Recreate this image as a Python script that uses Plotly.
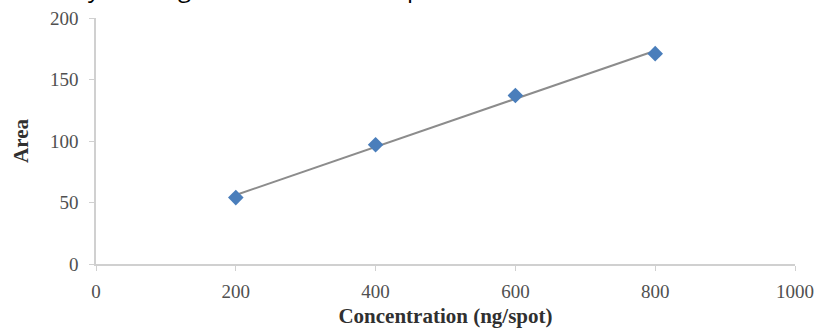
import numpy as np
import plotly.graph_objects as go

concentration = [200, 400, 600, 800]
area = [54, 97, 137, 171]
x_ticks = [0, 200, 400, 600, 800, 1000]
y_ticks = [0, 50, 100, 150, 200]

slope, intercept = np.polyfit(concentration, area, 1)
fit_x = [min(concentration), max(concentration)]
fit_y = [slope * v + intercept for v in fit_x]

fig = go.Figure()
fig.add_trace(go.Scatter(x=fit_x, y=fit_y, mode="lines",
                         line=dict(color="#8c8c8c", width=2), showlegend=False))
fig.add_trace(go.Scatter(x=concentration, y=area, mode="markers",
                         marker=dict(symbol="diamond", size=12, color="#4a7ebb",
                                     line=dict(width=0)), showlegend=False))

serif = "Liberation Serif"
fig.update_layout(
    width=819, height=328,
    margin=dict(l=96, r=24, t=18, b=64, autoexpand=False),
    paper_bgcolor="white", plot_bgcolor="white",
    font=dict(family=serif, color="#505050", size=19),
    xaxis=dict(range=[0, 1000], tickvals=x_ticks, showgrid=False, zeroline=False,
               showline=True, linecolor="#d0d0d0", linewidth=1.5,
               ticks="outside", ticklen=5, tickcolor="#d0d0d0",
               ticklabelstandoff=4,
               title=dict(text="<b>Concentration (ng/spot)</b>", standoff=12,
                          font=dict(family=serif, size=21, color="#303030"))),
    yaxis=dict(range=[0, 200], tickvals=y_ticks, showgrid=False, zeroline=False,
               showline=True, linecolor="#d0d0d0", linewidth=1.5,
               ticks="outside", ticklen=5, tickcolor="#d0d0d0",
               ticklabelstandoff=7,
               title=dict(text="<b>Area</b>", standoff=16,
                          font=dict(family=serif, size=21, color="#303030"))),
)

# descenders of the caption line cut off at the top of the image
caption_chars = ["y", "g", "p"]
caption_px = [94, 184, 414]
for ch, xp in zip(caption_chars, caption_px):
    fig.add_annotation(text=ch, x=(xp - 96) / (819 - 96 - 24), xref="paper",
                       y=1 + (18 - 6) / 246, yref="paper", yanchor="bottom", xanchor="center",
                       showarrow=False, font=dict(family="Open Sans", size=24, color="black"))

fig.write_html("out.html", post_script="document.body.style.margin='0';",
               config={"displayModeBar": False})
